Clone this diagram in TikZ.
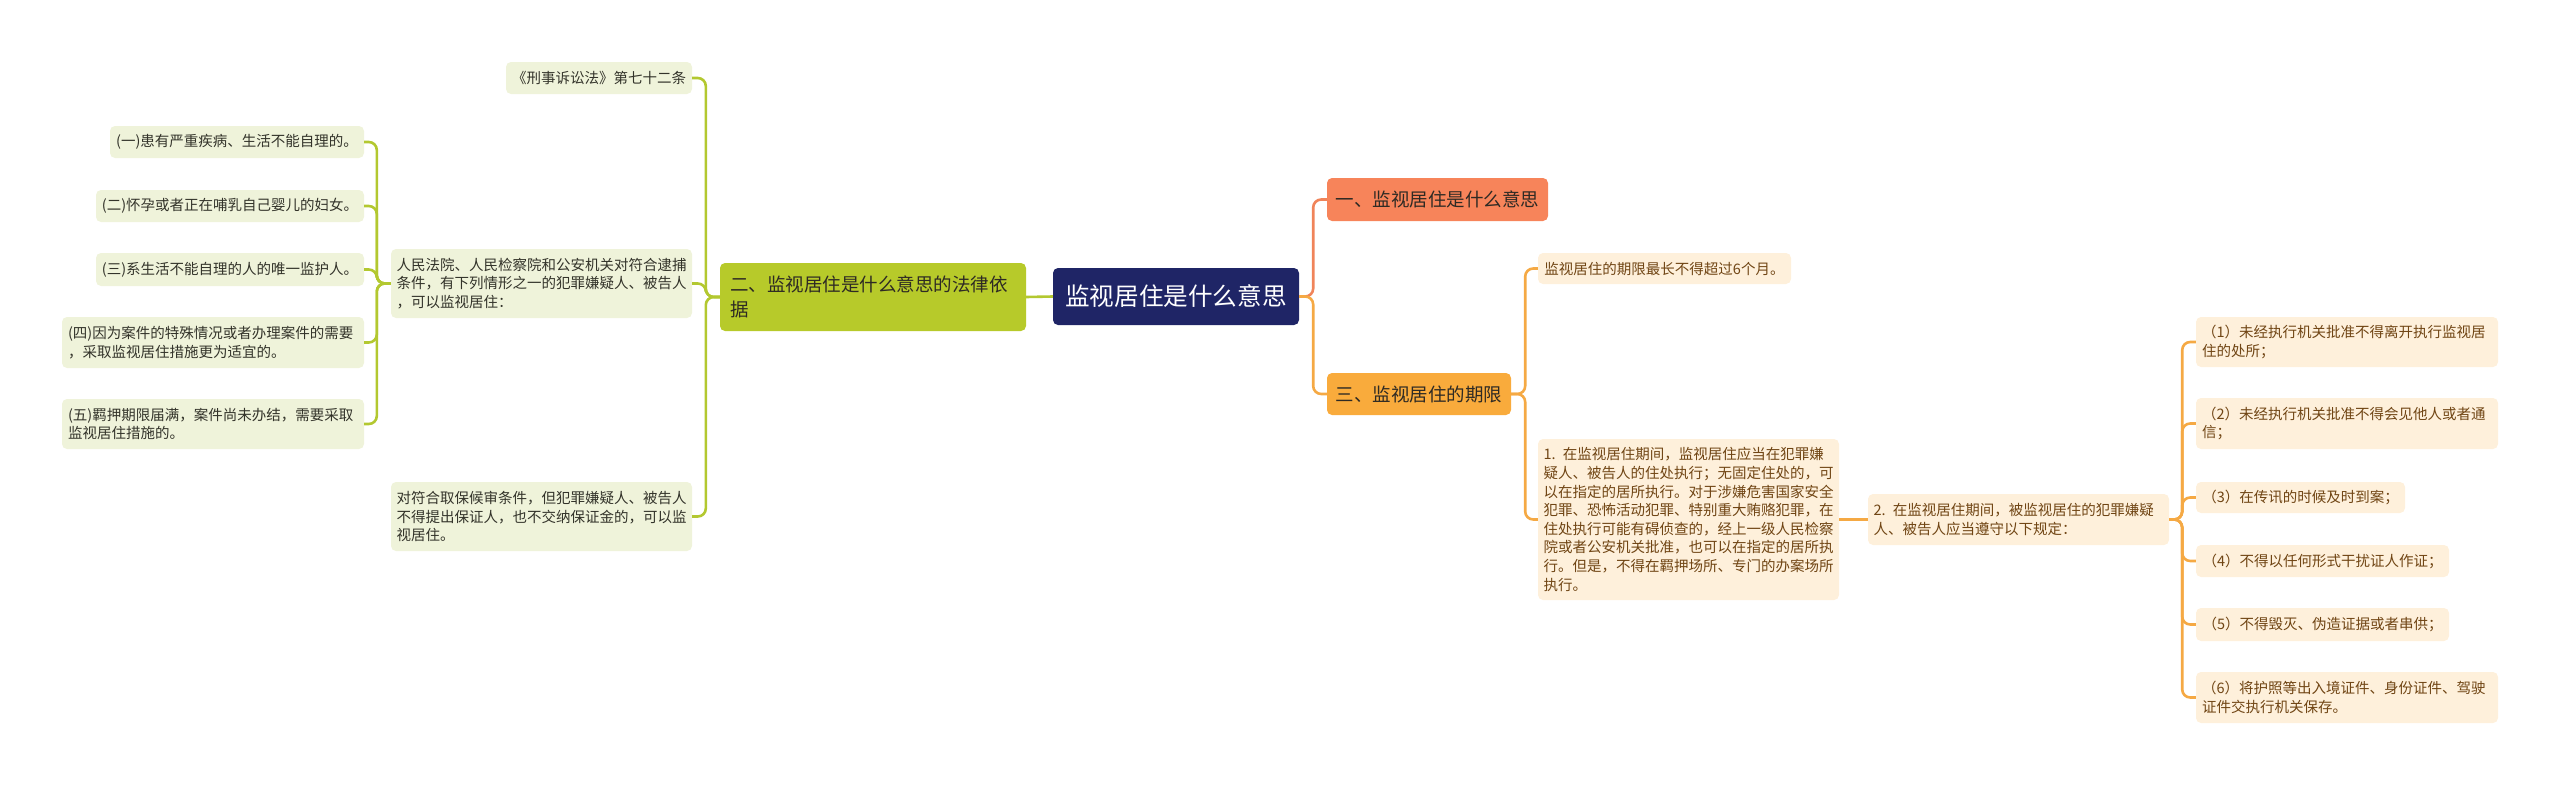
\documentclass[tikz,border=0pt]{standalone}
\usepackage{fontspec}
\setmainfont{Noto Sans CJK SC}

\definecolor{rootfill}{HTML}{1F2566}
\definecolor{yifill}{HTML}{F7845A}
\definecolor{sanfill}{HTML}{F9AB3C}
\definecolor{erfill}{HTML}{B7CA2A}
\definecolor{leafgreen}{HTML}{EFF3DA}
\definecolor{leaforange}{HTML}{FEF0DB}
\definecolor{linegreen}{HTML}{B3C830}
\definecolor{linecoral}{HTML}{F0845A}
\definecolor{lineorange}{HTML}{F5A944}
\definecolor{greentext}{HTML}{33332A}
\definecolor{orangetext}{HTML}{704514}
\definecolor{topictext}{HTML}{2E2A24}

\begin{document}
\begin{tikzpicture}[x=1pt, y=-1pt,
	box/.style={rounded corners=5pt, inner sep=0pt, align=left},
	rootbox/.style={box, fill=rootfill, text=white, font=\fontsize{24.6}{30}\selectfont},
	topicbox/.style={box, text=topictext, font=\fontsize{18.5}{25}\selectfont},
	greenleaf/.style={box, fill=leafgreen, text=greentext, font=\fontsize{14.5}{18.6}\selectfont},
	orangeleaf/.style={box, fill=leaforange, text=orangetext, font=\fontsize{14.5}{18.6}\selectfont},
	greenlink/.style={draw=linegreen, line width=2.6pt, rounded corners=8pt},
	corallink/.style={draw=linecoral, line width=2.6pt, rounded corners=8pt},
	orangelink/.style={draw=lineorange, line width=2.6pt, rounded corners=8pt}]
	\useasboundingbox (0,0) rectangle (2560,785);
	% centre
	\node[rootbox, minimum width=246pt, minimum height=57pt] (root) at (1176,296.5) {监视居住是什么意思};
	% right side
	\node[topicbox, fill=yifill, minimum width=221pt, minimum height=43pt] (yi) at (1437.5,199.5) {一、监视居住是什么意思};
	\node[topicbox, fill=sanfill, minimum width=184pt, minimum height=42pt] (san) at (1419,394) {三、监视居住的期限};
	\node[orangeleaf, minimum width=253pt, minimum height=31pt] (six) at (1664.5,268.5) {监视居住的期限最长不得超过6个月。};
	\node[orangeleaf, minimum width=301pt, minimum height=161pt, text width=290pt] (one) at (1688.5,519.5)
		{1. 在监视居住期间，监视居住应当在犯罪嫌\\疑人、被告人的住处执行；无固定住处的，可\\以在指定的居所执行。对于涉嫌危害国家安全\\犯罪、恐怖活动犯罪、特别重大贿赂犯罪，在\\住处执行可能有碍侦查的，经上一级人民检察\\院或者公安机关批准，也可以在指定的居所执\\行。但是，不得在羁押场所、专门的办案场所\\执行。};
	\node[orangeleaf, minimum width=301pt, minimum height=51pt, text width=290pt] (two) at (2018.5,519.5)
		{2. 在监视居住期间，被监视居住的犯罪嫌疑\\人、被告人应当遵守以下规定：};
	\node[orangeleaf, minimum width=302pt, minimum height=50pt, text width=290pt] (r1) at (2347,342) {（1）未经执行机关批准不得离开执行监视居\\住的处所；};
	\node[orangeleaf, minimum width=302pt, minimum height=51pt, text width=290pt] (r2) at (2347,423.5) {（2）未经执行机关批准不得会见他人或者通\\信；};
	\node[orangeleaf, minimum width=209pt, minimum height=31pt] (r3) at (2300.5,497.5) {（3）在传讯的时候及时到案；};
	\node[orangeleaf, minimum width=253pt, minimum height=32pt] (r4) at (2322.5,561) {（4）不得以任何形式干扰证人作证；};
	\node[orangeleaf, minimum width=253pt, minimum height=33pt] (r5) at (2322.5,624.5) {（5）不得毁灭、伪造证据或者串供；};
	\node[orangeleaf, minimum width=302pt, minimum height=51pt, text width=290pt] (r6) at (2347,697.5) {（6）将护照等出入境证件、身份证件、驾驶\\证件交执行机关保存。};
	% left side
	\node[topicbox, fill=erfill, minimum width=306pt, minimum height=68pt, text width=286pt] (er) at (873,297) {二、监视居住是什么意思的法律依\\据};
	\node[greenleaf, minimum width=186pt, minimum height=32pt] (law) at (599,78) {《刑事诉讼法》第七十二条};
	\node[greenleaf, minimum width=301pt, minimum height=69pt, text width=290pt] (fy) at (541.5,283.5)
		{人民法院、人民检察院和公安机关对符合逮捕\\条件，有下列情形之一的犯罪嫌疑人、被告人\\，可以监视居住：};
	\node[greenleaf, minimum width=301pt, minimum height=69pt, text width=290pt] (bail) at (541.5,516.5)
		{对符合取保候审条件，但犯罪嫌疑人、被告人\\不得提出保证人，也不交纳保证金的，可以监\\视居住。};
	\node[greenleaf, minimum width=254pt, minimum height=32pt] (k1) at (237,142) {(一)患有严重疾病、生活不能自理的。};
	\node[greenleaf, minimum width=268pt, minimum height=32pt] (k2) at (230,206) {(二)怀孕或者正在哺乳自己婴儿的妇女。};
	\node[greenleaf, minimum width=268pt, minimum height=33pt] (k3) at (230,269.5) {(三)系生活不能自理的人的唯一监护人。};
	\node[greenleaf, minimum width=302pt, minimum height=51pt, text width=290pt] (k4) at (213,342.5) {(四)因为案件的特殊情况或者办理案件的需要\\，采取监视居住措施更为适宜的。};
	\node[greenleaf, minimum width=302pt, minimum height=50pt, text width=290pt] (k5) at (213,424) {(五)羁押期限届满，案件尚未办结，需要采取\\监视居住措施的。};
	% links
	\draw[corallink] (root.east) -- ++(14,0) |- (yi.west);
	\draw[orangelink] (root.east) -- ++(14,0) |- (san.west);
	\foreach \k in {six,one}
		\draw[orangelink] (san.east) -- ++(14,0) |- (\k.west);
	\draw[orangelink] (one.east) -- (two.west);
	\foreach \k in {r1,r2,r3,r4,r5,r6}
		\draw[orangelink] (two.east) -- ++(13,0) |- (\k.west);
	\draw[greenlink] (root.west) -- (er.east);
	\foreach \k in {law,fy,bail}
		\draw[greenlink] (er.west) -- ++(-14,0) |- (\k.east);
	\foreach \k in {k1,k2,k3,k4,k5}
		\draw[greenlink] (fy.west) -- ++(-14,0) |- (\k.east);
\end{tikzpicture}
\end{document}
